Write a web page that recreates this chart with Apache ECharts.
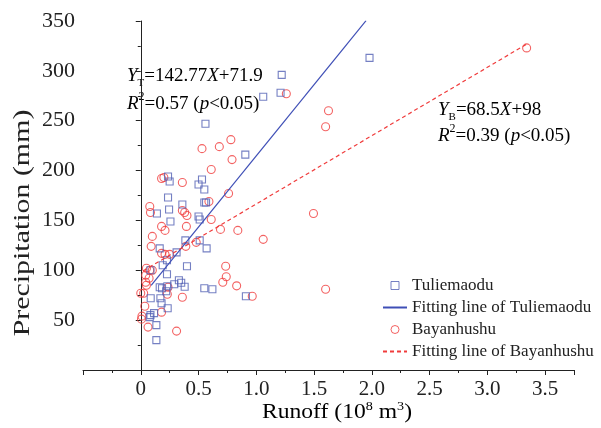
<!DOCTYPE html>
<html>
<head>
<meta charset="utf-8">
<script src="https://cdn.jsdelivr.net/npm/echarts@6/dist/echarts.min.js"></script>
<style>html,body{margin:0;padding:0;background:#fff}#c{width:601px;height:428px}</style>
</head>
<body>
<div id="c"></div>
<script>
// ---- data ----
const xTickLabels = ['0', '0.5', '1.0', '1.5', '2.0', '2.5', '3.0', '3.5'];
const yTickLabels = ['50', '100', '150', '200', '250', '300', '350'];

const tuliemaoduRunoff = [1.98,1.22,1.21,1.06,0.56,0.905,0.236,0.25,0.53,0.50,0.55,0.55,0.565,0.36,0.236,0.245,0.14,0.50,0.51,0.257,0.386,0.51,0.57,0.164,0.31,0.227,0.19,0.40,0.084,0.227,0.29,0.33,0.35,0.38,0.164,0.184,0.23,0.22,0.55,0.62,0.91,0.086,0.17,0.18,0.233,0.084,0.115,0.078,0.135,0.135];
const tuliemaoduPrecip = [313,296,278,274,247,216,194,189,191,186,181,168,168,166,173,161,157,154,151,149,130,130,122,122,118,110,105,104,100,96,86,90,87.5,83.5,83,82,84,79,82,81,74,72,72,67,62,55,57,53,45,30];

const bayanhushuRunoff = [3.34,1.26,1.625,1.60,0.78,0.68,0.53,0.79,0.61,0.36,0.76,0.59,0.36,0.38,0.40,0.61,0.395,0.69,0.84,0.48,1.06,0.39,0.18,0.20,0.078,0.084,0.18,0.21,0.10,0.09,0.18,0.21,0.25,0.049,0.078,0.10,0.043,0.072,0.043,0.049,0,0.025,0.236,0.23,0.36,0.035,0.01,0.006,0.063,0.31,0.18,0.735,0.74,0.71,0.83,0.965,1.495,1.60];
const bayanhushuPrecip = [323,277,260,244,231,224,222,211,201,188,177,169,160,158,155,151,144,141,140,128,131,124,192,193,164,158,144,140,134,124,117,116,116,102,100,100,95,92,88,85,77,77,83,76,73,64,54,51,43,39,58,104,93.5,88,84.4,74,157,81];

// regression lines: [slope, intercept], drawn over [xStart, xEnd]
const fitTuliemaodu = [142.77, 71.9];
const fitTuliemaoduRange = [0.09, 1.95];
const fitBayanhushu = [68.5, 98];
const fitBayanhushuRange = [0.02, 3.34];

const seriesNames = ['Tuliemaodu', 'Fitting line of Tuliemaodu', 'Bayanhushu', 'Fitting line of Bayanhushu'];

// ---- chart ----
const SERIF = '"Liberation Serif", "DejaVu Serif", serif';
const BLUE = '#5260b4';
const BLUE_LINE = '#3f4fb6';
const RED = '#f03c3c';
const BLUE_TXT = '#3a48a6';
const RED_TXT = '#ea2a30';
const HIDE = {color: 'rgba(0,0,0,0)', borderColor: 'rgba(0,0,0,0)', borderWidth: 0};

function zip(a, b) { return a.map((v, i) => [v, b[i]]); }
function fitLine(c, r) { return r.map(x => [x, c[0] * x + c[1]]); }

const chart = echarts.init(document.getElementById('c'), null, {renderer: 'canvas'});

function richEq(color, size) {
  return {
    i: {fontFamily: SERIF, fontStyle: 'italic', fontSize: size, color: color, lineHeight: 26},
    n: {fontFamily: SERIF, fontSize: size, color: color, lineHeight: 26},
    sub: {fontFamily: SERIF, fontSize: 11, color: color, verticalAlign: 'bottom', lineHeight: 12},
    sup: {fontFamily: SERIF, fontSize: 12, color: color, verticalAlign: 'top', lineHeight: 16}
  };
}

const option = {
  backgroundColor: '#fff',
  animation: false,
  grid: {left: 83, right: 27, top: 21, bottom: 58, containLabel: false},
  xAxis: {
    type: 'value', min: -0.5, max: 3.75, interval: 0.5,
    axisLine: {lineStyle: {color: '#222', width: 1}},
    axisTick: {show: true, length: 5, lineStyle: {color: '#222'}},
    minorTick: {show: true, splitNumber: 2, length: 3, lineStyle: {color: '#222'}},
    splitLine: {show: false},
    axisLabel: {
      fontFamily: SERIF, fontSize: 21, color: '#222', margin: 9,
      formatter: v => { const i = Math.round(v / 0.5); return (Math.abs(v - i * 0.5) < 1e-6 && i >= 0 && i < xTickLabels.length) ? xTickLabels[i] : ''; }
    }
  },
  yAxis: {
    type: 'value', min: 0, max: 350, interval: 50,
    axisLine: {show: true, lineStyle: {color: '#222', width: 1}},
    axisTick: {show: true, length: 5, lineStyle: {color: '#222'}},
    minorTick: {show: true, splitNumber: 2, length: 3, lineStyle: {color: '#222'}},
    splitLine: {show: false},
    axisLabel: {
      fontFamily: SERIF, fontSize: 22, color: '#222', margin: 8,
      formatter: v => { const i = Math.round(v / 50) - 1; return (i >= 0 && i < yTickLabels.length) ? yTickLabels[i] : ''; }
    }
  },
  legend: {
    orient: 'vertical', left: 377, top: 272, itemGap: 5,
    itemWidth: 24, itemHeight: 8, symbolKeepAspect: true,
    textStyle: {fontFamily: SERIF, fontSize: 17, color: '#222'},
    data: [
      {name: seriesNames[0], icon: 'path://M0,0H10V10H0Z', itemStyle: {color: 'rgba(0,0,0,0)', borderColor: BLUE, borderWidth: 1}},
      {name: seriesNames[1], itemStyle: HIDE},
      {name: seriesNames[2], icon: 'circle', itemStyle: {color: 'rgba(0,0,0,0)', borderColor: RED, borderWidth: 1}},
      {name: seriesNames[3], itemStyle: HIDE}
    ]
  },
  series: [
    {
      name: seriesNames[0], type: 'scatter', symbol: 'rect', symbolSize: 7,
      itemStyle: {color: 'rgba(0,0,0,0)', borderColor: BLUE, borderWidth: 1.1},
      data: zip(tuliemaoduRunoff, tuliemaoduPrecip), z: 3
    },
    {
      name: seriesNames[1], type: 'line', symbol: 'none',
      lineStyle: {color: BLUE_LINE, width: 1.2}, itemStyle: {color: BLUE_LINE},
      data: fitLine(fitTuliemaodu, fitTuliemaoduRange), z: 4
    },
    {
      name: seriesNames[2], type: 'scatter', symbol: 'circle', symbolSize: 8,
      itemStyle: {color: 'rgba(0,0,0,0)', borderColor: RED, borderWidth: 1.1},
      data: zip(bayanhushuRunoff, bayanhushuPrecip), z: 2
    },
    {
      name: seriesNames[3], type: 'line', symbol: 'none',
      lineStyle: {color: RED, width: 1.2, type: [4, 3]}, itemStyle: {color: RED},
      data: fitLine(fitBayanhushu, fitBayanhushuRange), z: 4
    }
  ],
  graphic: [
    {
      type: 'text', x: 127, y: 76,
      style: {
        text: '{i|Y}{sub|T}{n|=142.77}{i|X}{n|+71.9}', rich: richEq(BLUE_TXT, 19),
        align: 'left', verticalAlign: 'middle'
      }
    },
    {
      type: 'text', x: 127, y: 104,
      style: {
        text: '{i|R}{sup|2}{n|=0.57 (}{i|p}{n|<0.05)}', rich: richEq(BLUE_TXT, 19),
        align: 'left', verticalAlign: 'middle'
      }
    },
    {
      type: 'text', x: 438, y: 110,
      style: {
        text: '{i|Y}{sub|B}{n|=68.5}{i|X}{n|+98}', rich: richEq(RED_TXT, 19),
        align: 'left', verticalAlign: 'middle'
      }
    },
    {
      type: 'text', x: 438, y: 136,
      style: {
        text: '{i|R}{sup|2}{n|=0.39 (}{i|p}{n|<0.05)}', rich: richEq(RED_TXT, 19),
        align: 'left', verticalAlign: 'middle'
      }
    },
    {
      type: 'text', x: 23, y: 223, rotation: Math.PI / 2, scaleX: 1.3,
      style: {
        text: 'Precipitation (mm)', font: '23px ' + SERIF, fill: '#222',
        align: 'center', verticalAlign: 'middle'
      }
    },
    {
      type: 'text', x: 337, y: 413, scaleX: 1.18,
      style: {
        text: '{n|Runoff (10}{sup|8}{n| m}{sup|3}{n|)}',
        rich: {
          n: {fontFamily: SERIF, fontSize: 20, color: '#222', lineHeight: 24},
          sup: {fontFamily: SERIF, fontSize: 12, color: '#222', verticalAlign: 'top', lineHeight: 16}
        },
        align: 'center', verticalAlign: 'middle'
      }
    }
  ]
};
chart.setOption(option);
</script>
</body>
</html>
